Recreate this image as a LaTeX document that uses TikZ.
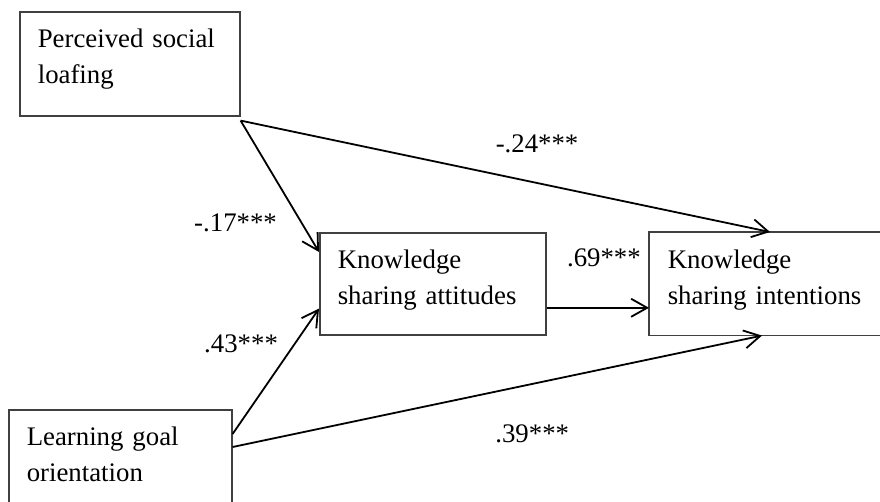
\documentclass[tikz,border=0pt]{standalone}
\usepackage{fontspec}
\setmainfont{Liberation Serif}
\usetikzlibrary{arrows.meta,positioning}

\begin{document}
\begin{tikzpicture}[x=0.5pt,y=-0.5pt,>={Straight Barb[length=8pt,width=9pt]},
	frame/.style={draw=black!75,line width=0.8pt},
	var/.style={frame,anchor=north west,align=left,
		inner xsep=9pt,inner ysep=0pt,text height=18pt,text depth=33pt,
		font=\fontsize{13.4}{18}\selectfont},
	coef/.style={inner sep=0pt,font=\fontsize{13.4}{18}\selectfont},
	path/.style={->,line width=0.9pt}]
	\useasboundingbox (0,0) rectangle (880,502);
	\node[var,text width=92pt,text depth=34pt] (psl) at (19,11) {Perceived social\\loafing};
	\node[var,text width=95pt] (ksa) at (319,232) {Knowledge\\sharing attitudes};
	\node[var,draw=none,text width=110pt] (ksi) at (649,232) {Knowledge\\sharing intentions};
	\node[var,text width=93.5pt] (lgo) at (8,409) {Learning goal\\orientation};
	% right side of the last box runs off the page
	\draw[frame] ([xshift=30pt]ksi.north east) -- (ksi.north west) -- (ksi.south west) -- ([xshift=30pt]ksi.south east);
	\path ([yshift=-2pt]psl.south east) edge[path] node[coef,pos=.56,above=14.5pt] {-.24***} ([xshift=60.5pt]ksi.north west)
		 ([yshift=-2pt]psl.south east) edge[path] node[coef,pos=.78,left=12pt] {-.17***} ([yshift=-10pt]ksa.north west)
		 ([yshift=-12pt]ksa.east) edge[path] node[coef,pos=.56,above=20pt] {.69***} ([yshift=-12pt]ksi.west)
		 ([yshift=-12.5pt]lgo.north east) edge[path] node[coef,pos=.72,left=8pt] {.43***} ([yshift=13.5pt]ksa.south west)
		 ([yshift=-19pt]lgo.north east) edge[path] node[coef,pos=.566,below=20pt] {.39***} ([xshift=56.5pt]ksi.south west);
\end{tikzpicture}
\end{document}
